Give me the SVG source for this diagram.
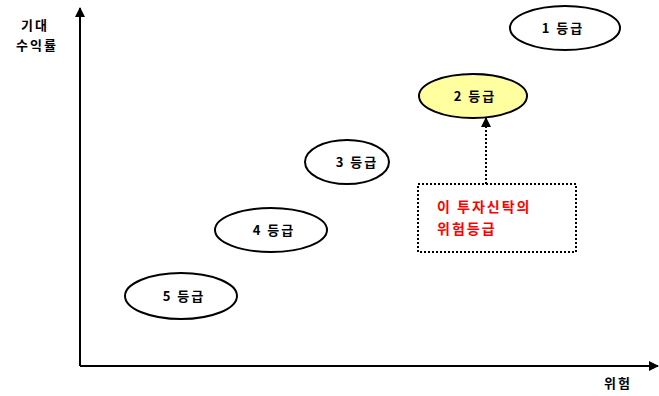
<svg xmlns="http://www.w3.org/2000/svg" width="659" height="396" viewBox="0 0 659 396">
<defs>
<marker id="ah" viewBox="0 0 10 10" refX="9" refY="5" markerWidth="10" markerHeight="10" markerUnits="userSpaceOnUse" orient="auto"><path d="M0,0 L10,5 L0,10 z" fill="#000"/></marker>
<style>
.lbl{font-family:"Noto Sans CJK KR","Noto Sans",sans-serif;font-size:13px;font-weight:bold;fill:#000;letter-spacing:2px}
.red{font-family:"Noto Sans CJK KR","Noto Sans",sans-serif;font-size:14px;font-weight:bold;fill:#ff0000;letter-spacing:2px}
.ell{fill:#fff;stroke:#000;stroke-width:2}
</style>
</defs>
<rect width="659" height="396" fill="#fff"/>
<g id="axes">
<line x1="80" y1="366" x2="80" y2="8" stroke="#000" stroke-width="2" marker-end="url(#ah)"/>
<line x1="80" y1="366" x2="658" y2="366" stroke="#000" stroke-width="2" marker-end="url(#ah)"/>
<text class="lbl" x="35" y="30" text-anchor="middle">기대</text>
<text class="lbl" x="37" y="50" text-anchor="middle">수익률</text>
<text class="lbl" x="618" y="388" text-anchor="middle">위험</text>
</g>
<g id="grade1"><ellipse class="ell" cx="565" cy="28" rx="55" ry="22"/><text class="lbl" x="563" y="33" text-anchor="middle">1 등급</text></g>
<g id="grade2"><ellipse cx="473" cy="96" rx="54" ry="22" fill="#ffffa0" stroke="#000" stroke-width="2"/><text class="lbl" x="475" y="101" text-anchor="middle">2 등급</text></g>
<g id="grade3"><ellipse class="ell" cx="347" cy="162" rx="42" ry="22"/><text class="lbl" x="357" y="167" text-anchor="middle">3 등급</text></g>
<g id="grade4"><ellipse class="ell" cx="271" cy="230" rx="56" ry="22"/><text class="lbl" x="274" y="235" text-anchor="middle">4 등급</text></g>
<g id="grade5"><ellipse class="ell" cx="181" cy="296" rx="56" ry="23"/><text class="lbl" x="184" y="301" text-anchor="middle">5 등급</text></g>
<g id="note">
<rect x="418" y="184" width="158" height="68" fill="#fff" stroke="#000" stroke-width="2" stroke-dasharray="2,2"/>
<text class="red" x="437" y="212">이 투자신탁의</text>
<text class="red" x="437" y="234">위험등급</text>
</g>
<g id="connectors">
<line x1="486" y1="184" x2="486" y2="118" stroke="#000" stroke-width="2" stroke-dasharray="2,2" marker-end="url(#ah)"/>
</g>
</svg>
